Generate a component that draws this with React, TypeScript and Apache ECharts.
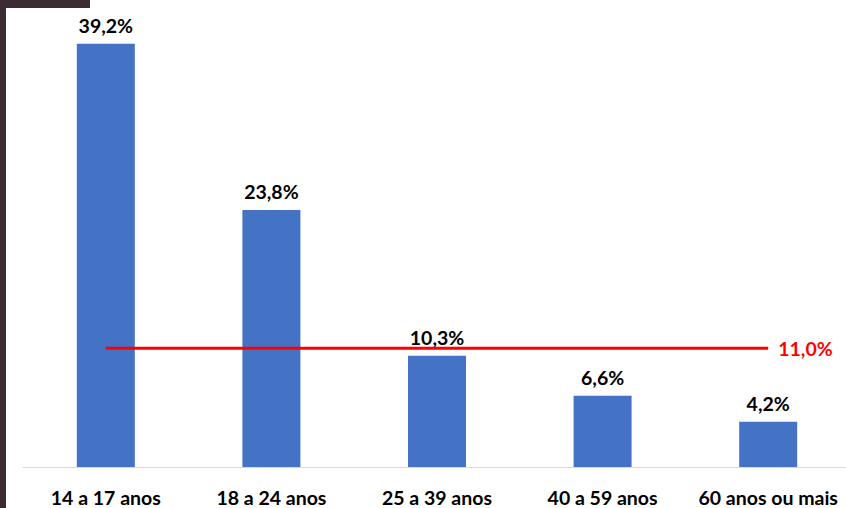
import React, { useEffect, useRef } from "react";
import * as echarts from "echarts";

const categories = ["14 a 17 anos", "18 a 24 anos", "25 a 39 anos", "40 a 59 anos", "60 anos ou mais"];
const values = [39.2, 23.8, 10.3, 6.6, 4.2];
const averageValue = 11.0;
const averageLine = categories.map(() => averageValue);

const fmt = (v: number) => v.toFixed(1).replace(".", ",") + "%";
const FONT = "Lato, 'Open Sans', sans-serif";
const FS = 19.5;

export default function App() {
  const ref = useRef<HTMLDivElement>(null);
  useEffect(() => {
    if (!ref.current) return;
    const chart = echarts.init(ref.current, undefined, { renderer: "svg" });
    chart.setOption({
      animation: false,
      backgroundColor: "#ffffff",
      grid: {
        left: 23,
        width: 828,
        top: 35,
        height: 432,
        containLabel: false,
        outerBoundsMode: "none",
      },
      xAxis: {
        type: "category",
        data: categories,
        axisLine: { lineStyle: { color: "#d9d9d9", width: 1 } },
        axisTick: { show: false },
        axisLabel: {
          color: "#000",
          fontFamily: FONT,
          fontWeight: "bold",
          fontSize: FS,
          margin: 20,
          interval: 0,
        },
      },
      yAxis: {
        type: "value",
        min: 0,
        max: 40,
        show: false,
        splitLine: { show: false },
      },
      series: [
        {
          type: "bar",
          data: values,
          barWidth: 58,
          itemStyle: { color: "#4472c4" },
          label: {
            show: true,
            position: "top",
            distance: 8,
            color: "#000",
            fontFamily: FONT,
            fontWeight: "bold",
            fontSize: FS,
            formatter: (p: any) => fmt(p.value),
          },
          z: 2,
        },
        {
          type: "line",
          data: averageLine,
          symbol: "none",
          lineStyle: { color: "#ff0000", width: 3 },
          z: 3,
          endLabel: {
            show: true,
            color: "#ff0000",
            fontFamily: FONT,
            fontWeight: "bold",
            fontSize: FS,
            distance: 10,
            formatter: (p: any) => fmt(p.value),
          },
        },
      ],
      graphic: [
        { type: "rect", left: 0, top: 0, shape: { width: 6, height: 508 }, style: { fill: "#3d2b33" } },
        { type: "rect", left: 0, top: 0, shape: { width: 90, height: 8 }, style: { fill: "#3d2b33" } },
      ],
    });
    return () => chart.dispose();
  }, []);
  return (
    <div
      ref={ref}
      style={{ position: "absolute", left: 0, top: 0, width: 846, height: 508 }}
    />
  );
}
